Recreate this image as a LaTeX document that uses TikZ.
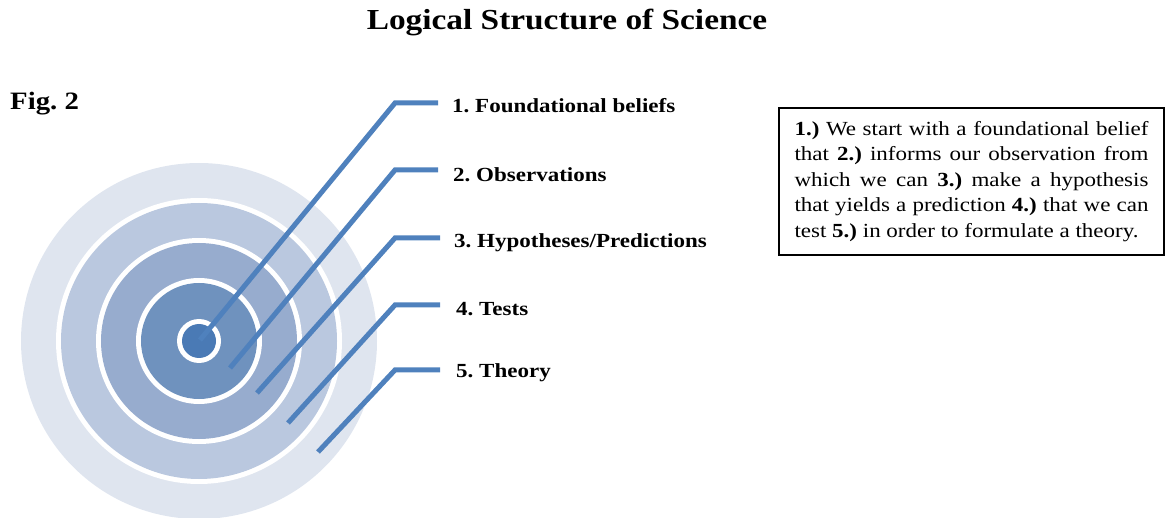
\documentclass[tikz,border=0pt]{standalone}
\usepackage{fontspec}
\setmainfont{Liberation Serif}[FakeStretch=1.15]
\frenchspacing
\definecolor{ringA}{HTML}{DFE5EF}
\definecolor{ringB}{HTML}{BAC8DF}
\definecolor{ringC}{HTML}{97ACCE}
\definecolor{ringD}{HTML}{6F92BE}
\definecolor{ringE}{HTML}{4A7AB5}
\definecolor{leader}{HTML}{4F81BD}
\begin{document}
\begin{tikzpicture}[x=1pt,y=-1pt,
  leaderline/.style={draw=leader,line width=5pt},
  lbl/.style={anchor=west,inner sep=0pt,font=\bfseries\fontsize{20}{23}\selectfont}]
\useasboundingbox (0,0) rectangle (1167,518);
% title and figure tag
\node[inner sep=0pt] (title) at (567,22) {\bfseries\fontsize{29}{34}\selectfont Logical Structure of Science};
\node[anchor=west,inner sep=0pt] (fig) at (10,104) {\bfseries\fontsize{25}{28}\selectfont Fig. 2};
% concentric rings, outermost first, each separated by a white band
\coordinate (c) at (199,341);
\fill[ringA] (c) circle[radius=178];
\fill[white] (c) circle[radius=143];
\fill[ringB] (c) circle[radius=138];
\fill[white] (c) circle[radius=103];
\fill[ringC] (c) circle[radius=98];
\fill[white] (c) circle[radius=63];
\fill[ringD] (c) circle[radius=58];
\fill[white] (c) circle[radius=22];
\fill[ringE] (c) circle[radius=17];
% start points of the leaders, one in each ring
\coordinate (s1) at (200,340);
\coordinate (s2) at (230,368);
\coordinate (s3) at (257,393);
\coordinate (s4) at (288,423);
\coordinate (s5) at (318,452);
% bends and ends
\coordinate (b1) at (395,103);
\coordinate (b2) at (395,170);
\coordinate (b3) at (395,238);
\coordinate (b4) at (395,305);
\coordinate (b5) at (395,370);
\coordinate (e1) at (438,103);
\coordinate (e2) at (438,170);
\coordinate (e3) at (440,238);
\coordinate (e4) at (440,305);
\coordinate (e5) at (440,370);
% labels
\node[lbl] (l1) at (452,106) {1. Foundational beliefs};
\node[lbl] (l2) at (453,175) {2. Observations};
\node[lbl] (l3) at (454,243) {3. Hypotheses/Predictions};
\node[lbl] (l4) at (456,309) {4. Tests};
\node[lbl] (l5) at (456,373) {5. Theory};
% leaders
\draw[leaderline] (s1) -- (b1) -- (e1);
\draw[leaderline] (s2) -- (b2) -- (e2);
\draw[leaderline] (s3) -- (b3) -- (e3);
\draw[leaderline] (s4) -- (b4) -- (e4);
\draw[leaderline] (s5) -- (b5) -- (e5);
% explanatory box
\node[draw=black,line width=2pt,text width=354pt,inner xsep=15.5pt,inner ysep=0pt,
      minimum height=147pt,align=justify,font=\fontsize{20}{25.5}\selectfont] (box) at (971.5,181.5)
  {\textbf{1.)} We start with a foundational belief\linebreak
   that \textbf{2.)} informs our observation from\linebreak
   which we can \textbf{3.)} make a hypothesis\linebreak
   that yields a prediction \textbf{4.)} that we can\linebreak
   test \textbf{5.)} in order to formulate a theory.};
\end{tikzpicture}
\end{document}
